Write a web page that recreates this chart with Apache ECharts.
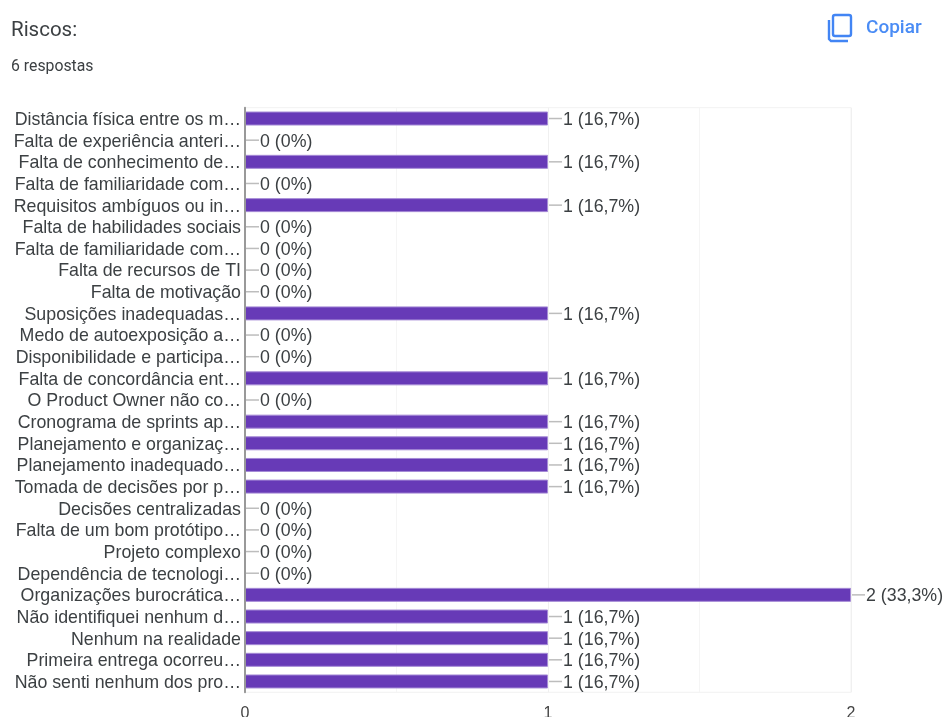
<!DOCTYPE html>
<html><head><meta charset="utf-8">
<style>html,body{margin:0;padding:0;background:#fff}#c{width:944px;height:717px}</style>
<script src="https://cdn.jsdelivr.net/npm/echarts@6/dist/echarts.min.js"></script>
</head><body><div id="c"></div>
<script>
const categories = ["Distância física entre os m…","Falta de experiência anteri…","Falta de conhecimento de…","Falta de familiaridade com…","Requisitos ambíguos ou in…","Falta de habilidades sociais","Falta de familiaridade com…","Falta de recursos de TI","Falta de motivação","Suposições inadequadas…","Medo de autoexposição a…","Disponibilidade e participa…","Falta de concordância ent…","O Product Owner não co…","Cronograma de sprints ap…","Planejamento e organizaç…","Planejamento inadequado…","Tomada de decisões por p…","Decisões centralizadas","Falta de um bom protótipo…","Projeto complexo","Dependência de tecnologi…","Organizações burocrática…","Não identifiquei nenhum d…","Nenhum na realidade","Primeira entrega ocorreu…","Não senti nenhum dos pro…"];
const counts = [1,0,1,0,1,0,0,0,0,1,0,0,1,0,1,1,1,1,0,0,0,0,2,1,1,1,1];
const percents = ["16,7%","0%","16,7%","0%","16,7%","0%","0%","0%","0%","16,7%","0%","0%","16,7%","0%","16,7%","16,7%","16,7%","16,7%","0%","0%","0%","0%","33,3%","16,7%","16,7%","16,7%","16,7%"];
const xTicks = [0,1,2];
const font = 'Roboto, sans-serif';
const chartFont = '"Liberation Sans", Arial, sans-serif';
const chart = echarts.init(document.getElementById('c'), null, {renderer:'canvas'});
chart.setOption({
  animation:false,
  backgroundColor:'#fff',
  title:[
    {text:'Riscos:',left:6,top:15,textStyle:{fontFamily:font,fontSize:20.5,fontWeight:400,color:'#3c4043'}},
    {text:'6 respostas',left:6,top:54,textStyle:{fontFamily:font,fontSize:15.8,fontWeight:400,color:'#3c4043'}},
    {text:'Copiar',left:861,top:14,textStyle:{fontFamily:font,fontSize:19,fontWeight:500,color:'#4a8cf5'}}
  ],
  graphic:[
    {type:'rect',shape:{x:833,y:15,width:18,height:21,r:2},style:{fill:'none',stroke:'#4285f4',lineWidth:2.4}},
    {type:'polyline',shape:{points:[[829,20],[829,39],[831,41],[848,41]]},style:{fill:'none',stroke:'#4285f4',lineWidth:2.4}}
  ],
  grid:{left:245,top:107.7,width:606,height:584.6,show:true,borderColor:'#f2f2f2',borderWidth:1,containLabel:false,outerBoundsMode:'none'},
  xAxis:{type:'value',min:0,max:2,interval:1,
    axisLine:{show:false},axisTick:{show:false},
    axisLabel:{fontFamily:chartFont,fontSize:16,color:'#444',margin:13,hideOverlap:false,formatter:v=>xTicks.includes(v)?String(v):''},
    splitLine:{show:true,lineStyle:{color:'#f0f0f0',width:1}},
    minorTick:{show:false,splitNumber:2},
    minorSplitLine:{show:true,lineStyle:{color:'#f5f5f5',width:1}}},
  yAxis:{type:'category',inverse:true,data:categories,z:3,
    axisLine:{show:true,lineStyle:{color:'#999',width:2}},axisTick:{show:false},
    axisLabel:{interval:0,fontFamily:chartFont,fontSize:17.8,color:'#3c4043',margin:4,align:'right',
      formatter:v=>'{a|'+v+'}',
      rich:{a:{fontFamily:chartFont,fontSize:17.8,color:'#3c4043',height:21,lineHeight:24,verticalAlign:'bottom',padding:[3,0,0,0]}}}},
  series:[
    {type:'custom',silent:true,z:1,data:counts.map((v,i)=>[v,i]),encode:{x:0,y:1},
     renderItem:(p,api)=>{const c=api.coord([api.value(0),api.value(1)]);
       return {type:'line',shape:{x1:c[0]+1,y1:c[1],x2:c[0]+14,y2:c[1]},style:{stroke:'#bdbdbd',lineWidth:1.5}};}},
    {type:'bar',z:2,barWidth:14,
     data:counts.map(v=>({value:v,itemStyle:{color:'#673ab7',borderColor:'#a58ad6',borderWidth:v>0?1:0}})),
     label:{show:true,position:'right',distance:15,offset:[0,1.5],fontFamily:chartFont,fontSize:17.8,color:'#3c4043',
       formatter:p=>p.value+' ('+percents[p.dataIndex]+')'}}
  ]
});
</script></body></html>
